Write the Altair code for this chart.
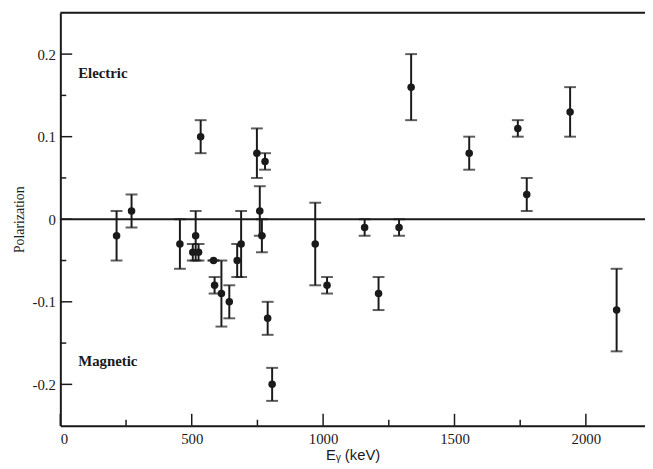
import altair as alt
import pandas as pd

# Data
energy = [214, 271, 455, 504, 526, 515, 534, 583, 587, 613, 643, 673, 688, 748, 759,
          767, 779, 789, 806, 970, 1015, 1158, 1211, 1289, 1335, 1556, 1741, 1775, 1940, 2117]
polar = [-0.02, 0.01, -0.03, -0.04, -0.04, -0.02, 0.10, -0.05, -0.08, -0.09, -0.10, -0.05,
         -0.03, 0.08, 0.01, -0.02, 0.07, -0.12, -0.20, -0.03, -0.08, -0.01, -0.09, -0.01,
         0.16, 0.08, 0.11, 0.03, 0.13, -0.11]
error = [0.03, 0.02, 0.03, 0.01, 0.01, 0.03, 0.02, 0.0, 0.01, 0.04, 0.02, 0.02, 0.04, 0.03,
         0.03, 0.02, 0.01, 0.02, 0.02, 0.05, 0.01, 0.01, 0.02, 0.01, 0.04, 0.02, 0.01, 0.02,
         0.03, 0.05]

x_major = [0, 500, 1000, 1500, 2000]
x_minor = [250, 750, 1250, 1750]
y_major = [-0.2, -0.1, 0.0, 0.1, 0.2]
y_minor = [-0.15, -0.05, 0.05, 0.15]

labels = ["Electric", "Magnetic"]
label_x = [68, 68]
label_y = [0.177, -0.172]

W, H = 592, 418
INK = "#1a1a1a"
SERIF = "Liberation Serif"
SANS = "Liberation Sans"

df = pd.DataFrame({"E": energy, "P": polar, "err": error})
df["lo"] = df["P"] - df["err"]
df["hi"] = df["P"] + df["err"]

xs = alt.Scale(domain=[0, 2225], nice=False, zero=False)
ys = alt.Scale(domain=[-0.25, 0.25], nice=False, zero=False)

y_label_expr = ("datum.value == 0 ? '0' : (datum.value < 0 ? '-' + format(-datum.value, '.1f') "
                ": format(datum.value, '.1f'))")
x_label_expr = "format(datum.value, 'd')"

x_axis = alt.Axis(values=x_major, tickSize=0, grid=False, domainColor=INK, domainWidth=2,
                  labelFont=SERIF, labelFontSize=15, labelColor=INK, labelExpr=x_label_expr,
                  labelPadding=6, title="Eᵧ (keV)", titleFont=SANS,
                  titleFontSize=15, titleFontWeight="normal", titleColor=INK, titlePadding=1)
y_axis = alt.Axis(values=y_major, tickSize=0, grid=False, domainColor=INK, domainWidth=2,
                  labelFont=SERIF, labelFontSize=15, labelColor=INK,
                  labelPadding=5, labelExpr=y_label_expr, title="Polarization",
                  titleFont=SERIF, titleFontSize=14, titleFontWeight="normal",
                  titleColor=INK, titlePadding=6)

base = alt.Chart(df)

bars = base.mark_rule(color=INK, strokeWidth=2).encode(
    x=alt.X("E:Q", scale=xs, axis=x_axis),
    y=alt.Y("lo:Q", scale=ys, axis=y_axis),
    y2="hi:Q",
)
cap_lo = base.mark_tick(orient="horizontal", size=12, thickness=2, color=INK).encode(
    x=alt.X("E:Q", scale=xs), y=alt.Y("lo:Q", scale=ys))
cap_hi = base.mark_tick(orient="horizontal", size=12, thickness=2, color=INK).encode(
    x=alt.X("E:Q", scale=xs), y=alt.Y("hi:Q", scale=ys))
points = base.mark_circle(size=58, opacity=1, color=INK).encode(
    x=alt.X("E:Q", scale=xs), y=alt.Y("P:Q", scale=ys))

one = pd.DataFrame({"v": [0]})
zero_line = alt.Chart(one).mark_rule(color=INK, strokeWidth=2).encode(
    y=alt.Y("v:Q", scale=ys))
top_line = alt.Chart(one).mark_rule(color=INK, strokeWidth=2).encode(y=alt.value(0))

xt_major = alt.Chart(pd.DataFrame({"t": x_major})).mark_rule(color=INK, strokeWidth=1.5).encode(
    x=alt.X("t:Q", scale=xs), y=alt.value(H), y2=alt.value(H - 12))
xt_minor = alt.Chart(pd.DataFrame({"t": x_minor})).mark_rule(color=INK, strokeWidth=1.5).encode(
    x=alt.X("t:Q", scale=xs), y=alt.value(H), y2=alt.value(H - 6))
yt_major = alt.Chart(pd.DataFrame({"t": y_major})).mark_rule(color=INK, strokeWidth=1.5).encode(
    y=alt.Y("t:Q", scale=ys), x=alt.value(0), x2=alt.value(12))
yt_minor = alt.Chart(pd.DataFrame({"t": y_minor})).mark_rule(color=INK, strokeWidth=1.5).encode(
    y=alt.Y("t:Q", scale=ys), x=alt.value(0), x2=alt.value(6))

annot = alt.Chart(pd.DataFrame({"x": label_x, "y": label_y, "text": labels})).mark_text(
    align="left", baseline="middle", font=SERIF, fontSize=15,
    fontWeight="bold", color=INK).encode(
    x=alt.X("x:Q", scale=xs), y=alt.Y("y:Q", scale=ys), text="text:N")

chart = alt.layer(
    bars, zero_line, top_line, xt_major, xt_minor, yt_major, yt_minor,
    cap_lo, cap_hi, points, annot
).properties(
    width=W, height=H,
    autosize=alt.AutoSizeParams(type="none"),
    padding={"left": 53, "top": 2, "right": 0, "bottom": 41},
).configure_view(stroke=None).configure(background="white").configure_axis(
    labelFont=SERIF, titleFont=SERIF
).configure_axisX(titleFont=SANS)

chart.save("out.html", embed_options={"renderer": "svg", "actions": False})
